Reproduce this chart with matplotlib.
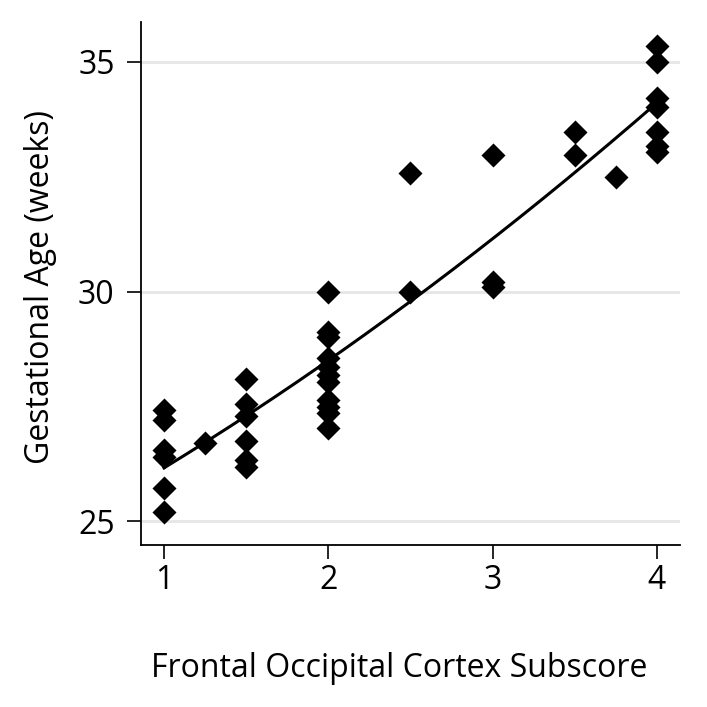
import matplotlib
matplotlib.use("Agg")
import matplotlib.pyplot as plt
import numpy as np

plt.rcParams['font.family'] = ['Open Sans', 'DejaVu Sans']

# Data
subscore = [1, 1, 1, 1, 1, 1,
            1.25,
            1.5, 1.5, 1.5, 1.5, 1.5, 1.5,
            2, 2, 2, 2, 2, 2, 2, 2, 2, 2, 2,
            2.5, 2.5,
            3, 3, 3,
            3.5, 3.5,
            3.75,
            4, 4, 4, 4, 4, 4, 4]
gest_age = [27.42, 27.2, 26.55, 26.4, 25.72, 25.2,
            26.7,
            28.1, 27.55, 27.3, 26.75, 26.33, 26.18,
            30.0, 29.12, 29.0, 28.55, 28.36, 28.18, 28.03, 27.64, 27.49, 27.35, 27.03,
            32.58, 30.0,
            32.98, 30.2, 30.1,
            33.47, 32.98,
            32.5,
            35.35, 35.0, 34.22, 34.02, 33.48, 33.18, 33.03]

x_ticks = [1, 2, 3, 4]
y_ticks = [25, 30, 35]
x_label = "Frontal Occipital Cortex Subscore"
y_label = "Gestational Age (weeks)"

fig = plt.figure(figsize=(7.07, 7.07), dpi=100)
ax = fig.add_axes([141/707, 1-545/707, (680-141)/707, (545-22)/707])

ax.set_xlim(0.86, 4.14)
ax.set_ylim(24.48, 35.87)

for yv in y_ticks:
    ax.axhline(yv, color='#e6e6e6', lw=2.0, zorder=0)

ax.scatter(subscore, gest_age, marker='D', s=150, color='black', zorder=3, linewidths=0)

coef = np.polyfit(subscore, gest_age, 2)
xs = np.linspace(1, 4, 200)
ax.plot(xs, np.polyval(coef, xs), color='black', lw=2.2, zorder=4)

for s in ['top', 'right']:
    ax.spines[s].set_visible(False)
for s in ['left', 'bottom']:
    ax.spines[s].set_linewidth(1.3)

ax.set_xticks(x_ticks)
ax.set_yticks(y_ticks)
ax.tick_params(axis='both', direction='out', length=10, width=1.2, labelsize=23)
ax.tick_params(axis='x', pad=4)
ax.tick_params(axis='y', pad=9)

ax.set_xlabel(x_label, fontsize=23)
ax.set_ylabel(y_label, fontsize=23)
ax.xaxis.set_label_coords(0.479, -0.205)
ax.yaxis.set_label_coords(-0.155, 0.494)

fig.savefig("out.png", dpi=100, facecolor='white')
